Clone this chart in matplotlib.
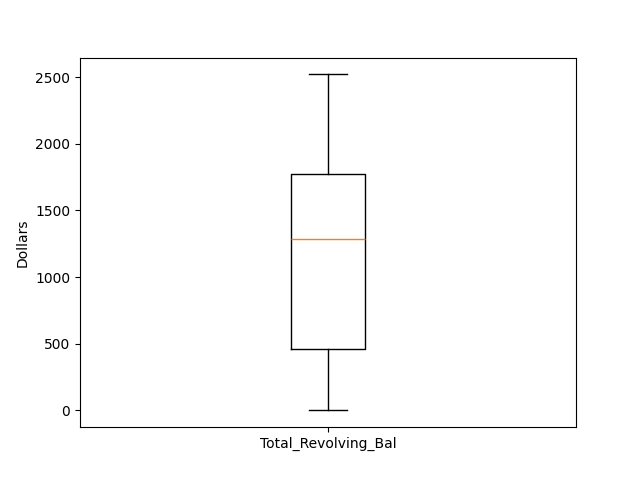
import matplotlib
matplotlib.use("Agg")
import matplotlib.pyplot as plt

# 箱线图统计量
labels = ["Total_Revolving_Bal"]
whislo = [0]
q1 = [462]
med = [1283]
q3 = [1772]
whishi = [2520]

stats = [
    {"label": labels[i], "whislo": whislo[i], "q1": q1[i], "med": med[i],
     "q3": q3[i], "whishi": whishi[i], "fliers": []}
    for i in range(len(labels))
]

fig, ax = plt.subplots(figsize=(6.4, 4.8), dpi=100)
ax.bxp(stats)
ax.set_ylabel("Dollars")

fig.savefig("out.png")
